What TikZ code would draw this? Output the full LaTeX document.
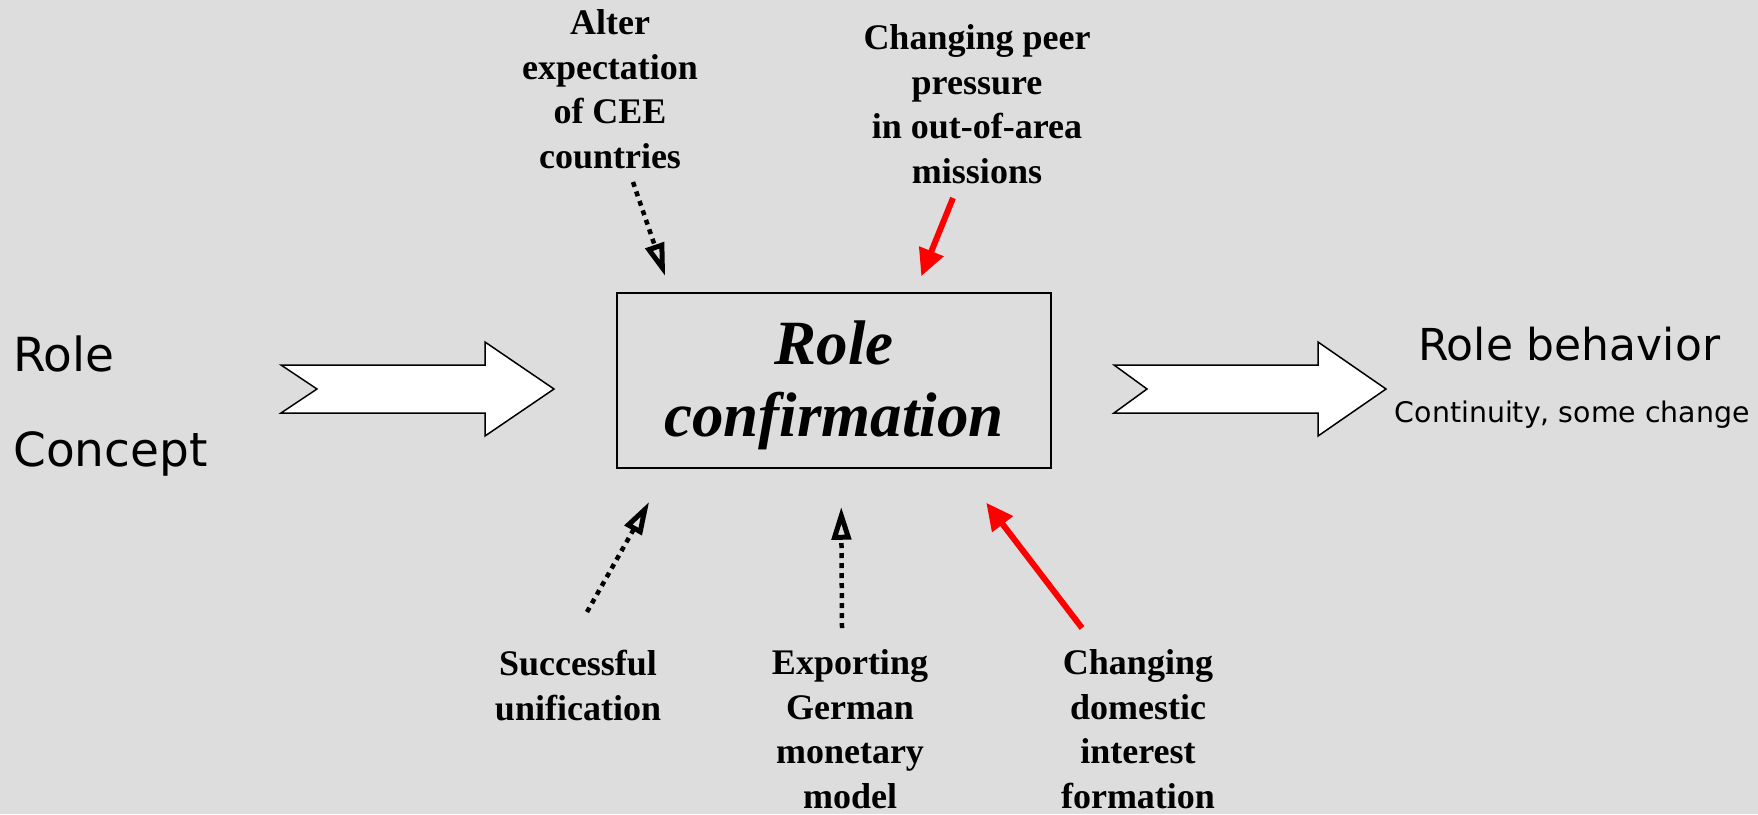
\documentclass[tikz,border=0pt]{standalone}
\usepackage{fontspec}
\setmainfont{Liberation Serif}
\newfontfamily\handfont{DejaVu Sans}
\usetikzlibrary{arrows.meta,calc}
\definecolor{bgc}{RGB}{221,221,221}
\definecolor{redc}{RGB}{255,0,0}
\begin{document}
\begin{tikzpicture}[x=1pt,y=-1pt,
  lbl/.style={inner sep=0pt, align=center, font=\bfseries\fontsize{36}{44.5}\selectfont},
  handw/.style={inner sep=0pt, font=\handfont\fontsize{#1}{95}\selectfont},
  blockarrow/.style={draw=black, fill=white, line width=1.5pt, line join=miter},
  dotarr/.style={draw=black, line width=4.5pt, dash pattern=on 5pt off 5pt,
    -{Triangle[open,length=33pt,width=19pt,line width=5pt]}},
  redarr/.style={draw=redc, line width=6pt, -{Triangle[length=27pt,width=25pt]}},
  confbox/.style={draw=black, line width=1.5pt, minimum width=434pt, minimum height=175pt,
    inner sep=0pt, align=center, font=\bfseries\itshape\fontsize{63}{72}\selectfont}
]
\fill[bgc] (0,0) rectangle (1758,814);
\useasboundingbox (0,0) rectangle (1758,814);

% central box
\node[confbox] (conf) at (834,380.5) {\rule{0pt}{53pt}Role\\confirmation};

% side labels (base anchor = last line baseline)
\node[handw=47, anchor=base west, align=left] (rc) at (13,466) {Role\\Concept};
\node[handw=44, anchor=base west] (rb) at (1418,360) {Role behavior};
\node[handw=28.4, anchor=base east] (cont) at (1750,422) {Continuity, some change};

% factor labels
\node[lbl, anchor=base] (alter) at (610,168) {Alter\\expectation\\of CEE\\countries};
\node[lbl, anchor=base] (peer) at (977,183) {Changing peer\\pressure\\in out-of-area\\missions};
\node[lbl, anchor=base] (succ) at (578,720) {Successful\\unification};
\node[lbl, anchor=base] (export) at (850,808) {Exporting\\German\\monetary\\model};
\node[lbl, anchor=base] (dom) at (1138,808) {Changing\\domestic\\interest\\formation};

% block arrows
\draw[blockarrow] (281,365) -- (485,365) -- (485,342) -- (554,389) -- (485,436)
  -- (485,413) -- (281,413) -- (317,389) -- cycle;
\draw[blockarrow] (1114,365) -- (1318,365) -- (1318,342) -- (1386,389) -- (1318,436)
  -- (1318,413) -- (1114,413) -- (1147,389) -- cycle;

% influence arrows
\draw[dotarr] ($(alter.base)+(23,14)$) -- ($(conf.north west)+(49,-16)$);
\draw[redarr] ($(peer.base)+(-24,15)$) -- ($(conf.north west)+(305,-16)$);
\draw[dotarr] ($(succ.base)+(9,-108)$) -- ($(conf.south west)+(33,33)$);
\draw[dotarr] ($(export.base)+(-8,-180)$) -- ($(conf.south west)+(225,38)$);
\draw[redarr] ($(dom.base)+(-56,-180)$) -- ($(conf.south west)+(370,34)$);
\end{tikzpicture}
\end{document}
